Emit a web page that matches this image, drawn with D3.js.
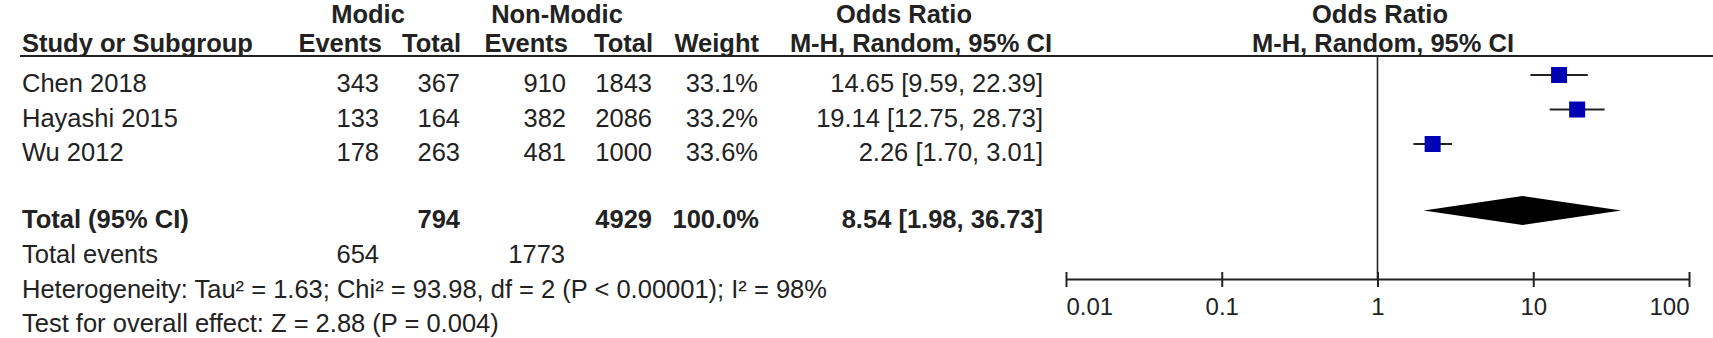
<!DOCTYPE html>
<html>
<head>
<meta charset="utf-8">
<script src="https://cdn.jsdelivr.net/npm/d3@7"></script>
<style>
  html, body { margin: 0; padding: 0; background: #fff; }
  svg text { font-family: Arial, "Liberation Sans", sans-serif; fill: #222; }
</style>
</head>
<body>
<div id="chart"></div>
<script>
// study data
const studies = ["Chen 2018", "Hayashi 2015", "Wu 2012"];
const modicEvents = [343, 133, 178];
const modicTotal = [367, 164, 263];
const nonEvents = [910, 382, 481];
const nonTotal = [1843, 2086, 1000];
const weights = ["33.1%", "33.2%", "33.6%"];
const oddsRatio = [14.65, 19.14, 2.26];
const ciLow = [9.59, 12.75, 1.70];
const ciHigh = [22.39, 28.73, 3.01];

// pooled result
const pooled = [8.54, 1.98, 36.73];   // OR, low, high
const pooledTotals = [794, 4929, "100.0%"];
const totalEvents = [654, 1773];
const heterogeneity = "Heterogeneity: Tau² = 1.63; Chi² = 93.98, df = 2 (P < 0.00001); I² = 98%";
const overallEffect = "Test for overall effect: Z = 2.88 (P = 0.004)";

const axisTicks = [0.01, 0.1, 1, 10, 100];

const width = 1713;
const height = 338;

const svg = d3.select("#chart")
  .append("svg")
  .attr("width", width)
  .attr("height", height);

function txt(x, y, s, anchor, bold, size) {
  return svg.append("text")
    .attr("x", x)
    .attr("y", y)
    .attr("text-anchor", anchor || "start")
    .attr("font-size", (size || 25.5) + "px")
    .attr("font-weight", bold ? "bold" : "normal")
    .text(s);
}

const fmtCI = (o, l, h) => `${o.toFixed(2)} [${l.toFixed(2)}, ${h.toFixed(2)}]`;

// column right edges
const col = { me: 379, mt: 460, ne: 566, nt: 652, w: 758, ci: 1043 };

// headers
txt(368, 23, "Modic", "middle", true);
txt(557, 23, "Non-Modic", "middle", true);
txt(904, 23, "Odds Ratio", "middle", true);
txt(1380, 23, "Odds Ratio", "middle", true);
txt(22, 52, "Study or Subgroup", "start", true);
txt(382, 52, "Events", "end", true);
txt(461, 52, "Total", "end", true);
txt(568, 52, "Events", "end", true);
txt(653, 52, "Total", "end", true);
txt(759, 52, "Weight", "end", true);
txt(1052, 52, "M-H, Random, 95% CI", "end", true);
txt(1383, 52, "M-H, Random, 95% CI", "middle", true);

svg.append("line")
  .attr("x1", 20).attr("x2", width)
  .attr("y1", 56).attr("y2", 56)
  .attr("stroke", "#222").attr("stroke-width", 2);

// scales
const x = d3.scaleLog().domain([0.01, 100]).range([1066, 1689]);
const y = d3.scaleLinear().domain([0, 2]).range([75, 144]);
const textOff = 17;

// study rows
studies.forEach((s, i) => {
  const ty = y(i) + textOff;
  txt(22, ty, s);
  txt(col.me, ty, modicEvents[i], "end");
  txt(col.mt, ty, modicTotal[i], "end");
  txt(col.ne, ty, nonEvents[i], "end");
  txt(col.nt, ty, nonTotal[i], "end");
  txt(col.w, ty, weights[i], "end");
  txt(col.ci, ty, fmtCI(oddsRatio[i], ciLow[i], ciHigh[i]), "end");
});

// total row
const totY = 210.5;
txt(22, totY + textOff, "Total (95% CI)", "start", true);
txt(col.mt, totY + textOff, pooledTotals[0], "end", true);
txt(col.nt, totY + textOff, pooledTotals[1], "end", true);
txt(col.w + 1, totY + textOff, pooledTotals[2], "end", true);
txt(col.ci, totY + textOff, fmtCI(pooled[0], pooled[1], pooled[2]), "end", true);

txt(22, 263, "Total events");
txt(col.me, 263, totalEvents[0], "end");
txt(col.ne - 1, 263, totalEvents[1], "end");
txt(22, 298, heterogeneity);
txt(22, 332, overallEffect);

// line of no effect
const axisY = 279;
svg.append("line")
  .attr("x1", x(1)).attr("x2", x(1))
  .attr("y1", 57).attr("y2", axisY)
  .attr("stroke", "#222").attr("stroke-width", 1.6);

// CI whiskers and squares
const plot = svg.append("g");
plot.selectAll(".ci")
  .data(studies)
  .join("line")
  .attr("x1", (d, i) => x(ciLow[i]))
  .attr("x2", (d, i) => x(ciHigh[i]))
  .attr("y1", (d, i) => y(i))
  .attr("y2", (d, i) => y(i))
  .attr("stroke", "#222")
  .attr("stroke-width", 2);

const sq = 16;
plot.selectAll(".sq")
  .data(studies)
  .join("rect")
  .attr("x", (d, i) => x(oddsRatio[i]) - sq / 2)
  .attr("y", (d, i) => y(i) - sq / 2)
  .attr("width", sq)
  .attr("height", sq)
  .attr("fill", "#0000b4");

// pooled diamond
const dh = 14.5;
plot.append("path")
  .attr("d", `M${x(pooled[1])},${totY} L${x(pooled[0])},${totY - dh} L${x(pooled[2])},${totY} L${x(pooled[0])},${totY + dh} Z`)
  .attr("fill", "#000");

// axis
const axis = svg.append("g")
  .attr("transform", `translate(0,${axisY})`)
  .call(d3.axisBottom(x).tickValues(axisTicks).tickFormat(d => d).tickSizeOuter(0));

axis.select(".domain").attr("stroke", "#222").attr("stroke-width", 2);
axis.selectAll(".tick line")
  .attr("y1", -7).attr("y2", 8)
  .attr("stroke", "#222").attr("stroke-width", 2);
axis.selectAll(".tick text")
  .attr("y", 36).attr("dy", null)
  .attr("font-size", "24px")
  .attr("fill", "#222")
  .style("font-family", 'Arial, "Liberation Sans", sans-serif')
  .attr("text-anchor", (d, i) => i === 0 ? "start" : (i === axisTicks.length - 1 ? "end" : "middle"));
</script>
</body>
</html>
